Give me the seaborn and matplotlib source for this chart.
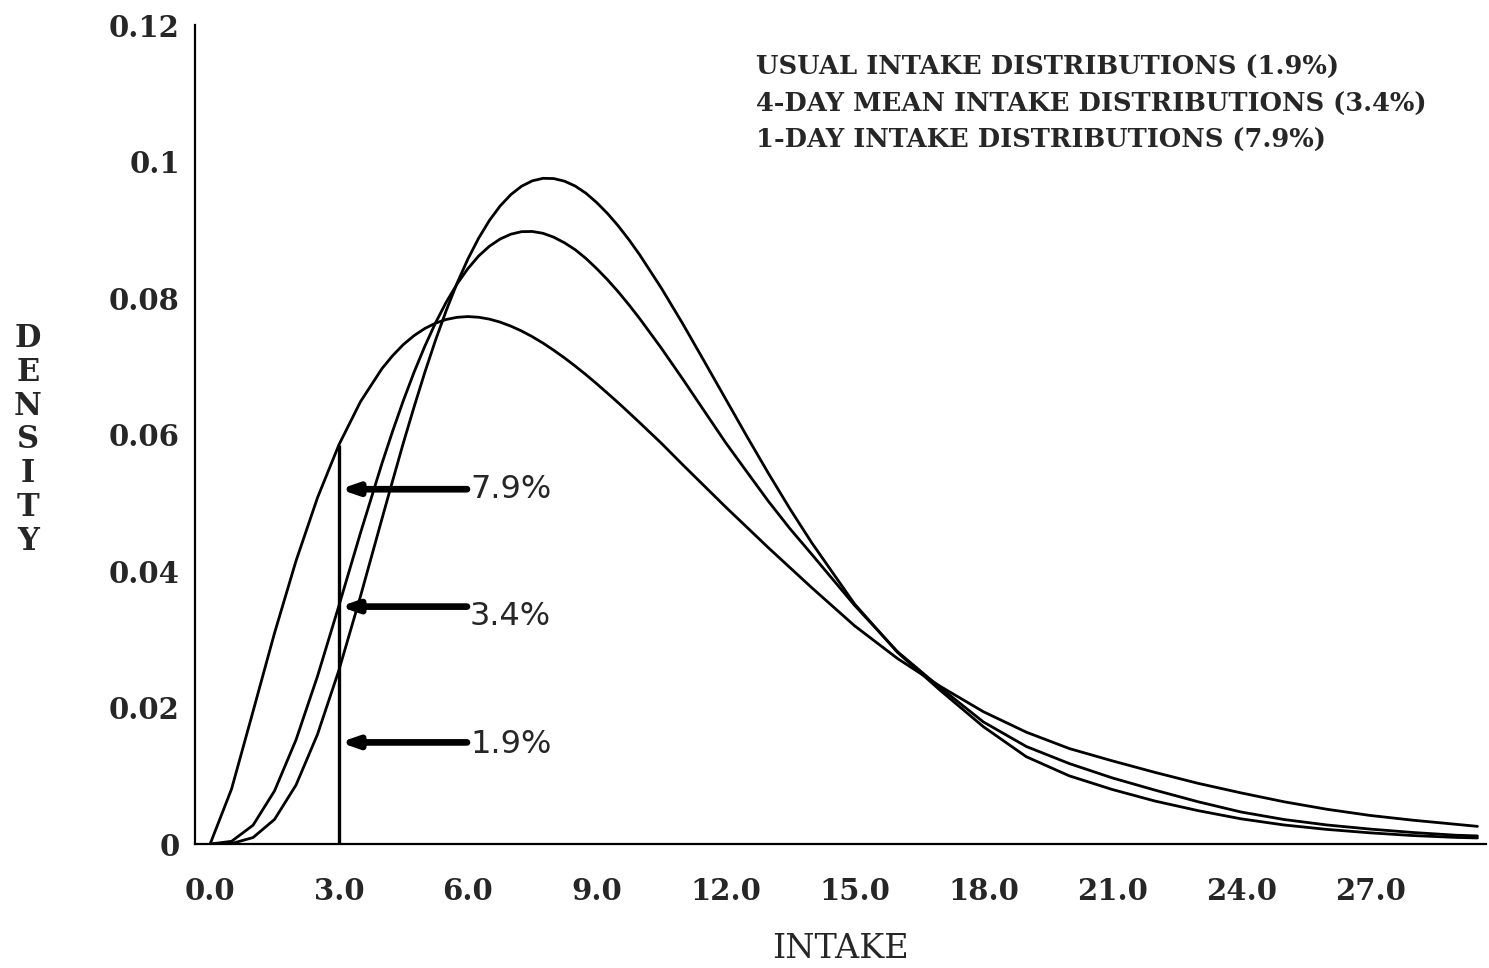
import numpy as np
import pandas as pd
import matplotlib
matplotlib.use("Agg")
import matplotlib.pyplot as plt
import seaborn as sns

# intake grid
intake = [0.0, 0.5, 1.0, 1.5, 2.0, 2.5, 3.0, 3.5, 4.0, 4.25, 4.5, 4.75, 5.0,
          5.25, 5.5, 5.75, 6.0, 6.25, 6.5, 6.75, 7.0, 7.25, 7.5, 7.75, 8.0,
          8.25, 8.5, 8.75, 9.0, 9.25, 9.5, 9.75, 10.0, 10.5, 11.0, 11.5, 12.0,
          12.5, 13.0, 13.5, 14.0, 15.0, 16.0, 17.0, 18.0, 19.0, 20.0, 21.0,
          22.0, 23.0, 24.0, 25.0, 26.0, 27.0, 28.0, 29.0, 29.5]

usual_density = [0.0, 0.00008, 0.00096, 0.00362, 0.00865, 0.01608, 0.02551,
                 0.03630, 0.04765, 0.05327, 0.05882, 0.06410, 0.06916, 0.07389,
                 0.07824, 0.08221, 0.08572, 0.08878, 0.09137, 0.09350, 0.09517,
                 0.09640, 0.09719, 0.09756, 0.09752, 0.09714, 0.09642, 0.09537,
                 0.09400, 0.09241, 0.09059, 0.08856, 0.08635, 0.08151, 0.07627,
                 0.07077, 0.06523, 0.05969, 0.05429, 0.04910, 0.04420, 0.03520,
                 0.02810, 0.02250, 0.01720, 0.01280, 0.01000, 0.00800, 0.00630,
                 0.00490, 0.00370, 0.00280, 0.00215, 0.00165, 0.00125, 0.00098,
                 0.00090]

fourday_density = [0.0, 0.00041, 0.00277, 0.00780, 0.01528, 0.02460, 0.03496,
                   0.04558, 0.05577, 0.06053, 0.06502, 0.06918, 0.07298, 0.07641,
                   0.07945, 0.08209, 0.08432, 0.08617, 0.08760, 0.08866, 0.08937,
                   0.08974, 0.08977, 0.08950, 0.08893, 0.08811, 0.08709, 0.08581,
                   0.08432, 0.08270, 0.08093, 0.07902, 0.07700, 0.07270, 0.06816,
                   0.06349, 0.05883, 0.05450, 0.05020, 0.04620, 0.04250, 0.03500,
                   0.02820, 0.02290, 0.01790, 0.01430, 0.01180, 0.00970, 0.00790,
                   0.00620, 0.00470, 0.00360, 0.00280, 0.00220, 0.00170, 0.00130,
                   0.00120]

oneday_density = [0.0, 0.00808, 0.01945, 0.03093, 0.04150, 0.05076, 0.05853,
                  0.06482, 0.06967, 0.07158, 0.07321, 0.07452, 0.07556, 0.07634,
                  0.07688, 0.07719, 0.07730, 0.07720, 0.07693, 0.07649, 0.07590,
                  0.07519, 0.07435, 0.07341, 0.07236, 0.07124, 0.07004, 0.06878,
                  0.06745, 0.06607, 0.06467, 0.06322, 0.06175, 0.05876, 0.05560,
                  0.05250, 0.04940, 0.04640, 0.04340, 0.04050, 0.03760, 0.03200,
                  0.02720, 0.02310, 0.01940, 0.01640, 0.01400, 0.01220, 0.01050,
                  0.00890, 0.00750, 0.00620, 0.00510, 0.00420, 0.00350, 0.00290,
                  0.00260]

legend_lines = ["USUAL INTAKE DISTRIBUTIONS (1.9%)",
                "4-DAY MEAN INTAKE DISTRIBUTIONS (3.4%)",
                "1-DAY INTAKE DISTRIBUTIONS (7.9%)"]

cutoff = 3.0
pct_labels = ["7.9%", "3.4%", "1.9%"]
pct_arrow_y = [0.0520, 0.0348, 0.0149]
pct_text_y = [0.0520, 0.0334, 0.0146]

x_ticks = [0.0, 3.0, 6.0, 9.0, 12.0, 15.0, 18.0, 21.0, 24.0, 27.0]
y_ticks = [0, 0.02, 0.04, 0.06, 0.08, 0.1, 0.12]
y_tick_labels = ["0", "0.02", "0.04", "0.06", "0.08", "0.1", "0.12"]

df = pd.DataFrame({
    "intake": intake * 3,
    "density": usual_density + fourday_density + oneday_density,
    "series": ["usual"] * len(intake) + ["4day"] * len(intake) + ["1day"] * len(intake),
})

sns.set_style("white")
plt.rcParams["font.family"] = ["DejaVu Serif"]

fig = plt.figure(figsize=(14.89, 9.68), dpi=100)
ax = fig.add_axes([0.131, 0.128, 0.867, 0.846])

sns.lineplot(data=df, x="intake", y="density", hue="series",
             palette=["black", "black", "black"], linewidth=2.0,
             legend=False, ax=ax)
for ln in ax.lines:
    ln.set_solid_joinstyle("round")

# cutoff line up to the 1-day curve
ax.vlines(cutoff, 0, oneday_density[intake.index(cutoff)], color="black", linewidth=2.4)

for lab, ya, yt in zip(pct_labels, pct_arrow_y, pct_text_y):
    ax.annotate("", xy=(cutoff + 0.02, ya), xytext=(5.98, ya),
                arrowprops=dict(arrowstyle="-|>,head_length=0.95,head_width=0.33",
                                color="black", lw=4.8, shrinkA=0, shrinkB=0))
    ax.text(6.05, yt, lab, fontsize=23, family="DejaVu Sans", va="center", ha="left")

for i, line in enumerate(legend_lines):
    fig.text(0.508, 0.930 - i * 0.0375, line, fontsize=18.5, fontweight="bold",
             va="center", ha="left")

ax.set_xlim(-0.35, 29.7)
ax.set_ylim(0, 0.12)
ax.set_xticks(x_ticks)
ax.set_xticklabels([f"{v:.1f}" for v in x_ticks])
ax.set_yticks(y_ticks)
ax.set_yticklabels(y_tick_labels)
ax.tick_params(length=0, labelsize=21)
ax.tick_params(axis="x", pad=24)
ax.tick_params(axis="y", pad=11)
for lbl in ax.get_xticklabels() + ax.get_yticklabels():
    lbl.set_fontweight("bold")
ax.set_xlabel("INTAKE", fontsize=24, labelpad=19)
ax.set_ylabel("")
fig.text(0.0188, 0.5455, "\n".join("DENSITY"), fontsize=22, fontweight="bold",
         ha="center", va="center", linespacing=1.12)

for side in ["top", "right"]:
    ax.spines[side].set_visible(False)
for side in ["left", "bottom"]:
    ax.spines[side].set_color("black")
    ax.spines[side].set_linewidth(1.6)

fig.savefig("out.png", dpi=100)
